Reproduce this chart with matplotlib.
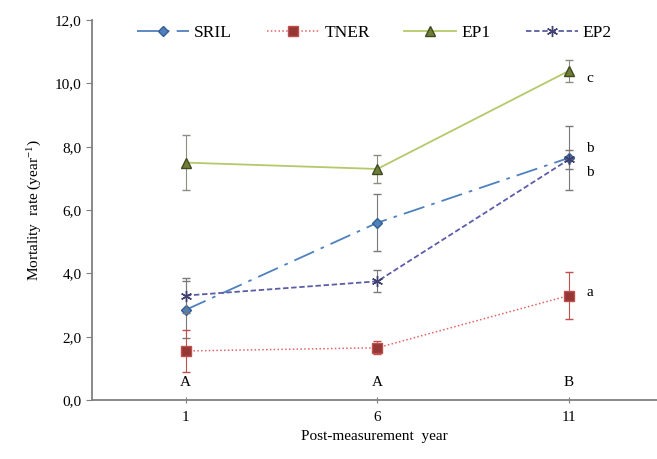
import matplotlib.pyplot as plt
from matplotlib.lines import Line2D
import numpy as np

plt.rcParams["font.family"] = ["Liberation Serif", "DejaVu Serif"]
plt.rcParams["mathtext.fontset"] = "custom"
plt.rcParams["mathtext.rm"] = "Liberation Serif"
plt.rcParams["mathtext.it"] = "Liberation Serif:italic"

years = [1, 6, 11]
year_ticks = ["1", "6", "11"]

sril = [2.85, 5.6, 7.65]
sril_err = [0.9, 0.9, 1.0]
tner = [1.55, 1.65, 3.3]
tner_err = [0.65, 0.2, 0.75]
ep1 = [7.5, 7.3, 10.4]
ep1_err = [0.87, 0.45, 0.35]
ep2 = [3.3, 3.75, 7.6]
ep2_err = [0.55, 0.35, 0.3]

year_groups = ["A", "A", "B"]
site_groups = ["c", "b", "b", "a"]
site_group_y = [10.15, 7.95, 7.2, 3.4]

styles = {
    "SRIL": dict(color="#4f81bd", lw=1.3, ls=(0, (12, 4, 2, 4)), marker="D",
                 ms=5.5, mfc="#4f81bd", mec="#365f91"),
    "TNER": dict(color="#e06666", lw=1.1, ls=(0, (1, 1.5)), marker="s",
                 ms=6.5, mfc="#953735", mec="#c0504d"),
    "EP1": dict(color="#b5c96a", lw=1.3, ls="-", marker="^", ms=7,
                mfc="#6f7f3a", mec="#3f4a1f"),
    "EP2": dict(color="#5b5ea6", lw=1.3, ls=(0, (3, 1.5)), marker=(6, 2, 0),
                ms=8, mec="#404070"),
}
series = [("EP1", ep1, ep1_err, "#8a8f80", 3),
          ("SRIL", sril, sril_err, "#7a7a7a", 4),
          ("TNER", tner, tner_err, "#c0504d", 4),
          ("EP2", ep2, ep2_err, "#7a7a7a", 5)]

fig = plt.figure(figsize=(6.57, 4.59), dpi=100)
ax = fig.add_axes([0.140, 0.1285, 0.86, 0.8275])

for name, vals, err, ecol, z in series:
    ax.errorbar(years, vals, yerr=err, ecolor=ecol, elinewidth=0.8,
                capsize=3, zorder=z, **styles[name])

for x, g in zip(years, year_groups):
    ax.text(x, 0.55, g, ha="center", va="center", fontsize=11)
for y, g in zip(site_group_y, site_groups):
    ax.text(11.45, y, g, ha="left", va="center", fontsize=11)

ax.set_xlim(-1.45, 13.3)
ax.set_ylim(0, 12)
ax.set_xticks(years)
ax.set_xticklabels(year_ticks)
yt = np.arange(0, 12.1, 2)
ax.set_yticks(yt)
ax.set_yticklabels([f"{v:.1f}".replace(".", ",") for v in yt])
ax.tick_params(axis="both", labelsize=11, color="#808080", length=4)
ax.tick_params(axis="x", direction="inout", pad=6)
for side in ("top", "right"):
    ax.spines[side].set_visible(False)
for side in ("left", "bottom"):
    ax.spines[side].set_color("#808080")
    ax.spines[side].set_linewidth(1.3)

ax.set_xlabel("Post-measurement  year", fontsize=11, labelpad=4)
ax.set_ylabel("Mortality  rate (year$^{-1}$)", fontsize=11, labelpad=8)

names = ["SRIL", "TNER", "EP1", "EP2"]
handles = [Line2D([], [], **styles[n]) for n in names]
ax.legend(handles, names, loc="upper center", bbox_to_anchor=(0.5, 1.03),
          ncol=4, frameon=False, fontsize=12.5, handlelength=3.0,
          columnspacing=2.0, handletextpad=0.3)

fig.savefig("out.png", dpi=100)
